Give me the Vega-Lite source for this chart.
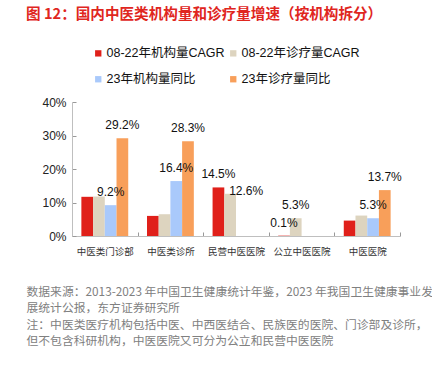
{
  "$schema": "https://vega.github.io/schema/vega-lite/v6.json",
  "width": 328,
  "height": 134,
  "autosize": {"type": "none"},
  "padding": {"left": 72, "top": 102, "right": 32, "bottom": 138},
  "background": "white",
  "config": {
    "view": {"stroke": null},
    "font": "Liberation Sans, Noto Sans CJK SC",
    "text": {"font": "Liberation Sans, Noto Sans CJK SC"}
  },
  "title": {
    "text": "图 12：国内中医类机构量和诊疗量增速（按机构拆分）",
    "anchor": "start",
    "dx": 0,
    "offset": 25,
    "fontSize": 14.6,
    "color": "#e0261e",
    "font": "Noto Sans CJK SC",
    "fontWeight": "bold"
  },
  "data": {
    "values": [
      {"cat": "中医类门诊部", "series": "08-22年机构量CAGR", "value": 0.117},
      {"cat": "中医类门诊部", "series": "08-22年诊疗量CAGR", "value": 0.118},
      {"cat": "中医类门诊部", "series": "23年机构量同比", "value": 0.092},
      {"cat": "中医类门诊部", "series": "23年诊疗量同比", "value": 0.292},
      {"cat": "中医类诊所", "series": "08-22年机构量CAGR", "value": 0.060},
      {"cat": "中医类诊所", "series": "08-22年诊疗量CAGR", "value": 0.065},
      {"cat": "中医类诊所", "series": "23年机构量同比", "value": 0.164},
      {"cat": "中医类诊所", "series": "23年诊疗量同比", "value": 0.283},
      {"cat": "民营中医医院", "series": "08-22年机构量CAGR", "value": 0.145},
      {"cat": "民营中医医院", "series": "08-22年诊疗量CAGR", "value": 0.126},
      {"cat": "公立中医医院", "series": "08-22年机构量CAGR", "value": 0.001},
      {"cat": "公立中医医院", "series": "08-22年诊疗量CAGR", "value": 0.053},
      {"cat": "中医医院", "series": "08-22年机构量CAGR", "value": 0.046},
      {"cat": "中医医院", "series": "08-22年诊疗量CAGR", "value": 0.061},
      {"cat": "中医医院", "series": "23年机构量同比", "value": 0.053},
      {"cat": "中医医院", "series": "23年诊疗量同比", "value": 0.137}
    ]
  },
  "encoding": {
    "x": {
      "field": "cat",
      "type": "nominal",
      "sort": ["中医类门诊部", "中医类诊所", "民营中医医院", "公立中医医院", "中医医院"],
      "scale": {"paddingInner": 0, "paddingOuter": 0},
      "axis": {
        "labelAngle": 0,
        "labelFontSize": 9.5,
        "labelColor": "#333333",
        "labelFont": "Noto Sans CJK SC",
        "labelPadding": 14,
        "tickBand": "extent",
        "tickSize": -4,
        "tickColor": "#999999",
        "domainColor": "#bfbfbf",
        "title": [
          "数据来源：2013-2023 年中国卫生健康统计年鉴，2023 年我国卫生健康事业发",
          "展统计公报，东方证券研究所",
          "注：中医类医疗机构包括中医、中西医结合、民族医的医院、门诊部及诊所，",
          "但不包含科研机构，中医医院又可分为公立和民营中医医院"
        ],
        "titleFont": "Noto Sans CJK SC",
        "titleFontSize": 11.8,
        "titleFontWeight": "normal",
        "titleColor": "#808080",
        "titleAnchor": "start",
        "titleAlign": "left",
        "titleBaseline": "top",
        "titleX": -46,
        "titleY": 50,
        "titleLineHeight": 16.5
      }
    },
    "xOffset": {
      "field": "series",
      "type": "nominal",
      "sort": ["08-22年机构量CAGR", "08-22年诊疗量CAGR", "23年机构量同比", "23年诊疗量同比"],
      "scale": {"paddingInner": 0, "paddingOuter": 0.8}
    },
    "y": {
      "field": "value",
      "type": "quantitative",
      "scale": {"domain": [0, 0.4]},
      "axis": {
        "format": ".0%",
        "values": [0, 0.1, 0.2, 0.3, 0.4],
        "grid": false,
        "labelFontSize": 12,
        "labelColor": "#222222",
        "labelPadding": 10,
        "tickSize": -4,
        "tickColor": "#999999",
        "domainColor": "#bfbfbf",
        "title": null
      }
    }
  },
  "layer": [
    {
      "mark": {"type": "bar"},
      "encoding": {
        "color": {
          "field": "series",
          "type": "nominal",
          "scale": {
            "domain": ["08-22年机构量CAGR", "08-22年诊疗量CAGR", "23年机构量同比", "23年诊疗量同比"],
            "range": ["#e0201a", "#ddd4bf", "#a9c9fb", "#f89f5a"]
          },
          "legend": {
            "title": null,
            "orient": "none",
            "direction": "horizontal",
            "legendX": 20,
            "legendY": -55,
            "columns": 2,
            "symbolType": "square",
            "symbolSize": 40,
            "symbolStrokeWidth": 0,
            "labelFontSize": 12.5,
            "labelFont": "Liberation Sans, Noto Sans CJK SC",
            "labelColor": "#111111",
            "labelOffset": 2,
            "columnPadding": 2,
            "rowPadding": 13,
            "padding": 0
          }
        }
      }
    },
    {
      "transform": [
        {"filter": "(datum.series === '23年机构量同比' || datum.series === '23年诊疗量同比' || datum.cat === '民营中医医院' || datum.cat === '公立中医医院') && !(datum.cat === '民营中医医院' && datum.series === '08-22年诊疗量CAGR')"}
      ],
      "mark": {"type": "text", "baseline": "middle", "dy": -13, "fontSize": 12, "color": "#111111"},
      "encoding": {
        "text": {"field": "value", "type": "quantitative", "format": ".1%"}
      }
    },
    {
      "transform": [
        {"filter": "datum.cat === '民营中医医院' && datum.series === '08-22年诊疗量CAGR'"}
      ],
      "mark": {"type": "text", "baseline": "middle", "dy": -3, "dx": 16, "fontSize": 12, "color": "#111111"},
      "encoding": {
        "text": {"field": "value", "type": "quantitative", "format": ".1%"}
      }
    }
  ]
}
